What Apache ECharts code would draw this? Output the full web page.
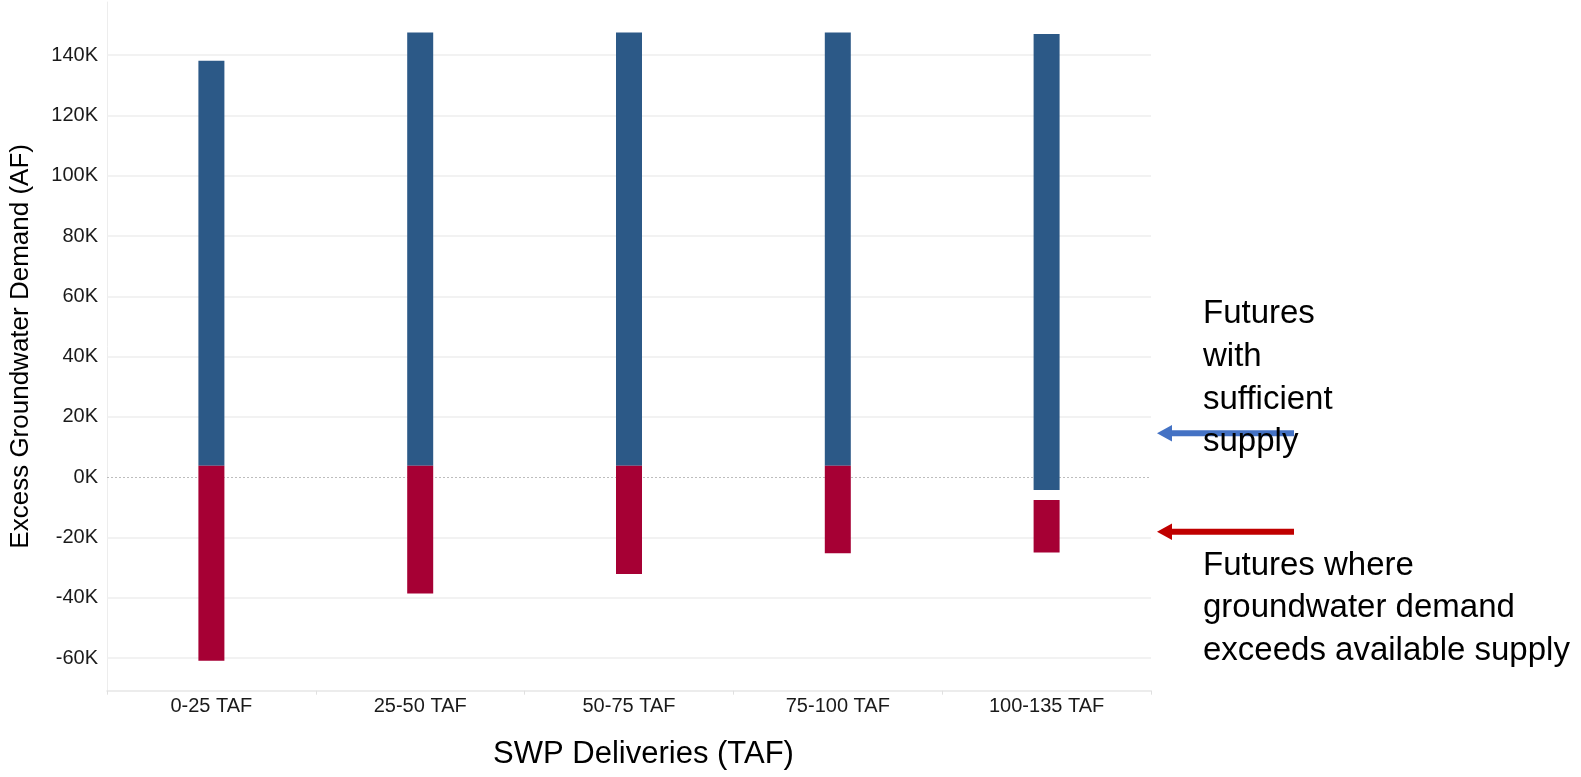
<!DOCTYPE html>
<html>
<head>
<meta charset="utf-8">
<script src="https://cdn.jsdelivr.net/npm/echarts@6/dist/echarts.min.js"></script>
<style>
html,body{margin:0;padding:0;background:#fff;}
#c{width:1581px;height:777px;}
</style>
</head>
<body>
<div id="c"></div>
<script>
const categories = ['0-25 TAF', '25-50 TAF', '50-75 TAF', '75-100 TAF', '100-135 TAF'];
// Futures with sufficient supply (blue range)
const blueTop = [138100, 147500, 147500, 147500, 147000];
const blueBottom = [3800, 3800, 3800, 3800, -4200];
// Futures where demand exceeds supply (red range)
const redTop = [3800, 3800, 3800, 3800, -7500];
const redBottom = [-60800, -38500, -32100, -25200, -24900];
const yTicks = [-60000, -40000, -20000, 0, 20000, 40000, 60000, 80000, 100000, 120000, 140000];

const chart = echarts.init(document.getElementById('c'));
const FONT = '"Liberation Sans", Arial, Helvetica, sans-serif';

function rangeSeries(name, lows, highs, color) {
  return {
    name: name,
    type: 'custom',
    encode: { x: 0, y: [1, 2] },
    data: categories.map((c, i) => [i, lows[i], highs[i]]),
    renderItem: function (params, api) {
      const x = api.value(0);
      const p1 = api.coord([x, api.value(2)]);
      const p2 = api.coord([x, api.value(1)]);
      const w = 26;
      return {
        type: 'rect',
        shape: { x: p1[0] - w / 2, y: p1[1], width: w, height: p2[1] - p1[1] },
        style: { fill: color }
      };
    },
    z: 5
  };
}

const gridLines = yTicks.filter(v => v !== 0).map(v => ({ yAxis: v }));

chart.setOption({
  animation: false,
  grid: { left: 105, right: 430, top: 2, bottom: 86.3 },
  xAxis: {
    type: 'category',
    data: categories,
    boundaryGap: true,
    axisLine: { show: true, onZero: false, lineStyle: { color: '#E6E6E6', width: 1.5 } },
    axisTick: { show: true, length: 4, lineStyle: { color: '#E0E0E0' } },
    axisLabel: { color: '#1a1a1a', fontSize: 20, fontFamily: FONT, margin: 6 },
    splitLine: { show: false },
    name: 'SWP Deliveries (TAF)',
    nameLocation: 'middle',
    nameGap: 48,
    nameTextStyle: { color: '#000', fontSize: 31, fontFamily: FONT, padding: [0, 0, 0, 29] }
  },
  yAxis: {
    type: 'value',
    min: -70760,
    max: 157600,
    axisLine: { show: true, lineStyle: { color: '#EDEDED', width: 1 } },
    axisTick: { show: false },
    splitLine: { show: false },
    axisLabel: {
      customValues: yTicks,
      color: '#1a1a1a',
      fontSize: 20,
      fontFamily: FONT,
      margin: 9,
      formatter: v => (v / 1000) + 'K'
    },
    name: 'Excess Groundwater Demand (AF)',
    nameLocation: 'middle',
    nameGap: 73,
    nameTextStyle: { color: '#000', fontSize: 26, fontFamily: FONT }
  },
  series: [
    {
      type: 'line',
      data: [],
      silent: true,
      markLine: {
        silent: true,
        symbol: 'none',
        label: { show: false },
        lineStyle: { color: '#EEEEEE', width: 1.5, type: 'solid' },
        data: gridLines
      }
    },
    {
      type: 'line',
      data: [],
      silent: true,
      markLine: {
        silent: true,
        symbol: 'none',
        label: { show: false },
        lineStyle: { color: '#BDBDBD', width: 1, type: [2, 2] },
        data: [{ yAxis: 0 }]
      }
    },
    rangeSeries('Futures with sufficient supply', blueBottom, blueTop, '#2C5987'),
    rangeSeries('Futures where groundwater demand exceeds available supply', redBottom, redTop, '#A60034')
  ],
  graphic: [
    // blue arrow
    { type: 'rect', shape: { x: 1168, y: 430.3, width: 126, height: 6 }, style: { fill: '#4472C4' } },
    { type: 'polygon', shape: { points: [[1157, 433.3], [1172, 425], [1172, 441.6]] }, style: { fill: '#4472C4' } },
    // red arrow
    { type: 'rect', shape: { x: 1168, y: 528.7, width: 126, height: 6 }, style: { fill: '#C00000' } },
    { type: 'polygon', shape: { points: [[1157, 531.7], [1172, 523.4], [1172, 540]] }, style: { fill: '#C00000' } },
    {
      type: 'text', x: 1203, y: 292.6, z: 10,
      style: { text: 'Futures\nwith\nsufficient\nsupply', font: '33px ' + FONT, fill: '#000', lineHeight: 42.8, verticalAlign: 'top' }
    },
    {
      type: 'text', x: 1203, y: 544.4, z: 10,
      style: { text: 'Futures where\ngroundwater demand\nexceeds available supply', font: '33px ' + FONT, fill: '#000', lineHeight: 42.5, verticalAlign: 'top' }
    }
  ]
});
</script>
</body>
</html>
